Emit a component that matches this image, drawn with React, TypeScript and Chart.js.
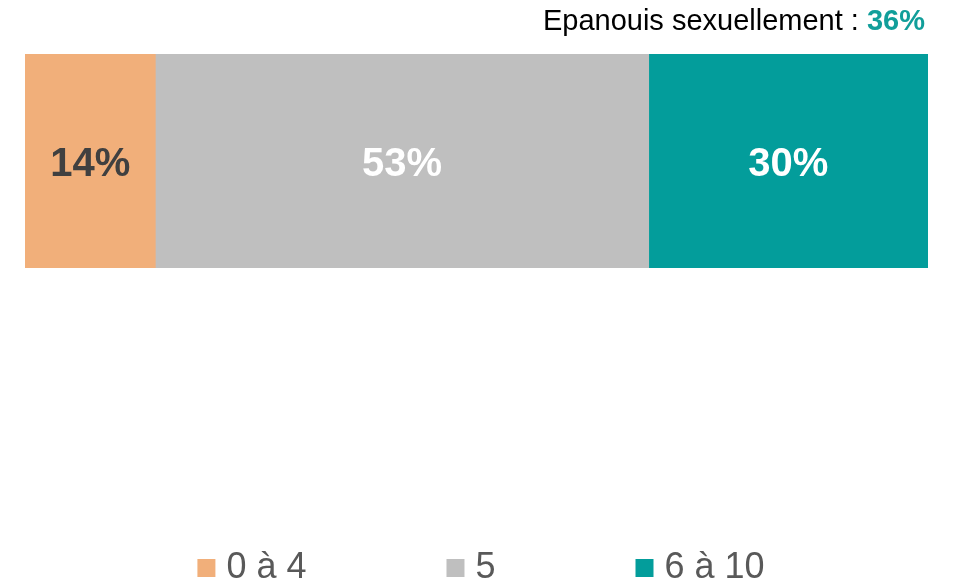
import React, { useEffect, useRef } from 'react';
import { Chart, registerables } from 'chart.js';

Chart.register(...registerables);

// ---- data ----
const categories = ['Epanouissement sexuel'];
const seriesLabels = ['0 à 4', '5', '6 à 10'];
const seriesValues = [14, 53, 30];
const seriesColors = ['#F1AF7A', '#BFBFBF', '#039D9B'];
const valueLabelColors = ['#404040', '#FFFFFF', '#FFFFFF'];
const headlineText = 'Epanouis sexuellement : ';
const headlineValue = '36%';

const FONT = "'Liberation Sans', Arial, Helvetica, sans-serif";
const total = seriesValues.reduce((a, b) => a + b, 0);

const valueLabelsPlugin = {
  id: 'valueLabels',
  afterDatasetsDraw(chart: any) {
    const ctx = chart.ctx;
    ctx.save();
    ctx.font = `bold 40px ${FONT}`;
    ctx.textAlign = 'center';
    ctx.textBaseline = 'middle';
    chart.data.datasets.forEach((ds: any, i: number) => {
      const meta = chart.getDatasetMeta(i);
      meta.data.forEach((el: any, j: number) => {
        const p = el.getCenterPoint();
        ctx.fillStyle = valueLabelColors[i];
        ctx.fillText(`${ds.data[j]}%`, p.x, p.y + 4);
      });
    });
    ctx.restore();
  },
};

const headlinePlugin = {
  id: 'headline',
  afterDraw(chart: any) {
    const ctx = chart.ctx;
    const right = chart.chartArea.right - 3;
    const y = 29.5;
    ctx.save();
    ctx.textAlign = 'left';
    ctx.textBaseline = 'alphabetic';
    ctx.font = `bold 29px ${FONT}`;
    const wv = ctx.measureText(headlineValue).width;
    ctx.font = `29px ${FONT}`;
    const wt = ctx.measureText(headlineText).width;
    const x0 = right - wv - wt;
    ctx.fillStyle = '#000000';
    ctx.fillText(headlineText, x0, y);
    ctx.font = `bold 29px ${FONT}`;
    ctx.fillStyle = '#119E9A';
    ctx.fillText(headlineValue, x0 + wt, y);
    ctx.restore();
  },
};

const legendShiftPlugin = {
  id: 'legendShift',
  afterLayout(chart: any) {
    const lg = chart.legend;
    if (lg) {
      lg.left += 8;
      lg.right += 8;
    }
  },
};

export default function App() {
  const ref = useRef<HTMLCanvasElement | null>(null);

  useEffect(() => {
    if (!ref.current) return;
    const chart = new Chart(ref.current, {
      type: 'bar',
      data: {
        labels: categories,
        datasets: seriesLabels.map((label, i) => ({
          label,
          data: [seriesValues[i]],
          backgroundColor: seriesColors[i],
          borderWidth: 0,
          categoryPercentage: 1,
          barPercentage: 1,
        })),
      },
      options: {
        indexAxis: 'y',
        animation: false,
        responsive: true,
        maintainAspectRatio: false,
        layout: { padding: { top: 54, left: 25, right: 26, bottom: -14 } },
        scales: {
          x: {
            stacked: true,
            min: 0,
            max: total,
            display: true,
            grid: { display: false },
            border: { display: false },
            ticks: { display: false },
            afterFit: (scale: any) => {
              scale.height = 135;
            },
          },
          y: {
            stacked: true,
            display: false,
          },
        },
        plugins: {
          tooltip: { enabled: false },
          title: { display: false },
          legend: {
            display: true,
            position: 'bottom',
            align: 'center',
            labels: {
              usePointStyle: true,
              pointStyle: 'rect',
              boxWidth: 4,
              boxHeight: 18,
              padding: 147,
              color: '#595959',
              font: { family: FONT, size: 36 },
            },
          },
        },
      },
      plugins: [valueLabelsPlugin, headlinePlugin, legendShiftPlugin],
    } as any);
    return () => chart.destroy();
  }, []);

  return (
    <div style={{ position: 'fixed', left: 0, top: 0, width: 954, height: 582, background: '#fff' }}>
      <canvas ref={ref} />
    </div>
  );
}
